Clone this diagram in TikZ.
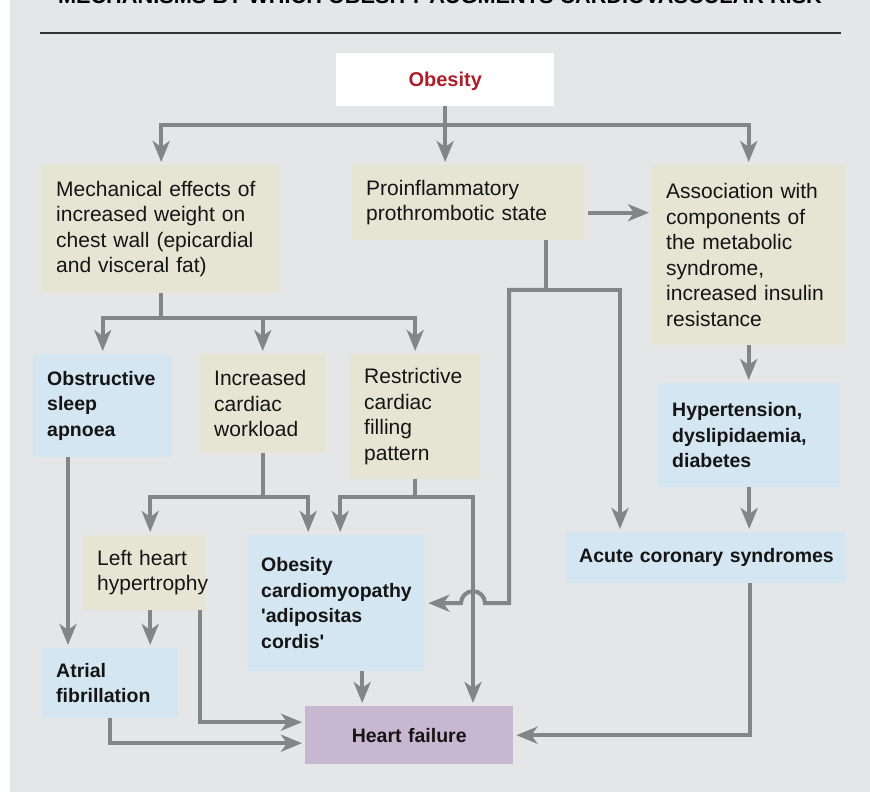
\documentclass[tikz,border=0pt]{standalone}
\usepackage{fontspec}
\setmainfont{Liberation Sans}
\usepackage{tikz}
\usetikzlibrary{arrows.meta,calc,positioning}

\definecolor{DEFINE_BG_COLOR}{HTML}{E5E6E8}
\definecolor{DEFINE_BEIGE_COLOR}{HTML}{E6E5D4}
\definecolor{DEFINE_BLUE_COLOR}{HTML}{D4E6F1}
\definecolor{DEFINE_PURPLE_COLOR}{HTML}{C8B7D0}
\definecolor{DEFINE_LINK_COLOR}{HTML}{848587}
\definecolor{DEFINE_RED_COLOR}{HTML}{AD1F2A}
\definecolor{DEFINE_TEXT_COLOR}{HTML}{151515}

\newcommand\regfont{\fontsize{21}{25.5}\selectfont}
\newcommand\boldfont{\fontsize{19.5}{25.5}\selectfont\bfseries}

\tikzstyle{BEIGE_COLOR}=[fill=DEFINE_BEIGE_COLOR]
\tikzstyle{BLUE_COLOR}=[fill=DEFINE_BLUE_COLOR]
\tikzstyle{PURPLE_COLOR}=[fill=DEFINE_PURPLE_COLOR]
\tikzstyle{box} = [rectangle, anchor=north west, inner xsep=14pt, inner ysep=0pt, align=left, text=DEFINE_TEXT_COLOR]
\tikzstyle{plain_box} = [box, BEIGE_COLOR, font=\regfont]
\tikzstyle{bold_box} = [box, BLUE_COLOR, font=\boldfont]
\tikzstyle{link} = [draw=DEFINE_LINK_COLOR, line width=4pt, -{Stealth[length=21pt,width=17pt,inset=6pt]}, shorten >=3pt]
\tikzstyle{line} = [draw=DEFINE_LINK_COLOR, line width=4pt]

\begin{document}
\begin{tikzpicture}[x=1pt, y=1pt]
      \useasboundingbox (0,0) rectangle (870,792);
      \fill[DEFINE_BG_COLOR] (10,0) rectangle (870,792);

      %%%%%%%%%%%%%%%%%%%%%%%%%%%%%%%%%%%%%%%%%%%%%%%%%
      % TITLE
      %%%%%%%%%%%%%%%%%%%%%%%%%%%%%%%%%%%%%%%%%%%%%%%%%
      \node[anchor=base, inner sep=0pt, font=\fontsize{21.7}{26}\selectfont\bfseries] (TITLE) at (440,788) {MECHANISMS BY WHICH OBESITY AUGMENTS CARDIOVASCULAR RISK};
      \draw[line width=2pt, draw=black!80] (40,759) -- (841,759);

      %%%%%%%%%%%%%%%%%%%%%%%%%%%%%%%%%%%%%%%%%%%%%%%%%
      % BOXES
      %%%%%%%%%%%%%%%%%%%%%%%%%%%%%%%%%%%%%%%%%%%%%%%%%
      \node[box, fill=white, align=center, minimum width=218pt, minimum height=53pt, text width=190pt, text height=14pt, text depth=0pt, text=DEFINE_RED_COLOR, font=\fontsize{20}{24}\selectfont\bfseries] (OB) at (336,739) {Obesity};

      \node[plain_box, minimum width=238pt, minimum height=128pt, text width=210pt] (MECH) at (42,627) {Mechanical effects of\\increased weight on\\chest wall (epicardial\\and visceral fat)};
      \node[plain_box, minimum width=233pt, minimum height=75pt, text width=205pt] (PRO) at (352,627) {Proinflammatory\\prothrombotic state};
      \node[plain_box, minimum width=193pt, minimum height=180pt, text width=165pt] (ASSOC) at (652,627) {Association with\\components of\\the metabolic\\syndrome,\\increased insulin\\resistance};

      \node[bold_box, minimum width=139pt, minimum height=103pt, text width=111pt] (OSA) at (33,438) {Obstructive\\sleep\\apnoea};
      \node[plain_box, minimum width=125pt, minimum height=99pt, text width=97pt] (INC) at (200,438) {Increased\\cardiac\\workload};
      \node[plain_box, minimum width=130pt, minimum height=125pt, text width=102pt] (RES) at (350,438) {Restrictive\\cardiac\\filling\\pattern};
      \node[bold_box, minimum width=182pt, minimum height=104pt, text width=154pt] (HYP) at (658,409) {Hypertension,\\dyslipidaemia,\\diabetes};

      \node[bold_box, minimum width=280pt, minimum height=51pt, text width=252pt] (ACS) at (565,260) {\mbox{Acute coronary syndromes}};
      \node[plain_box, minimum width=122pt, minimum height=75pt, text width=94pt] (LHH) at (83,257) {Left heart\\hypertrophy};
      \node[bold_box, minimum width=178pt, minimum height=136pt, text width=150pt] (OC) at (247,257) {Obesity\\cardiomyopathy\\\textquotesingle adipositas\\cordis\textquotesingle};
      \node[bold_box, minimum width=136pt, minimum height=70pt, text width=108pt] (AF) at (42,144) {Atrial\\fibrillation};
      \node[bold_box, PURPLE_COLOR, align=center, minimum width=208pt, minimum height=58pt, text width=180pt] (HF) at (305,86) {Heart failure};

      %%%%%%%%%%%%%%%%%%%%%%%%%%%%%%%%%%%%%%%%%%%%%%%%%
      % HELPER POINTS
      %%%%%%%%%%%%%%%%%%%%%%%%%%%%%%%%%%%%%%%%%%%%%%%%%
      \coordinate (PRO_split) at (546,502);
      \coordinate (PRO_L) at (509,502);
      \coordinate (PRO_R) at (620,502);
      \coordinate (PRO_out) at ($(PRO.east)+(0,-10)$);
      \coordinate (RES_R) at (473,295);
      \coordinate (OSA_out) at ($(OSA.south west)+(35,0)$);
      \coordinate (LHH_in) at ($(LHH.north)+(6,0)$);
      \coordinate (LHH_out) at ($(LHH.south)+(6,0)$);
      \coordinate (LHH_out2) at ($(LHH.south east)+(-5,0)$);
      \coordinate (OC_in) at ($(OC.north)+(-28,0)$);
      \coordinate (OC_in2) at ($(OC.north)+(4,0)$);
      \coordinate (OC_out) at ($(OC.south)+(26,0)$);
      \coordinate (ACS_out) at ($(ACS.south)+(45,0)$);

      %%%%%%%%%%%%%%%%%%%%%%%%%%%%%%%%%%%%%%%%%%%%%%%%%
      % ARROWS
      %%%%%%%%%%%%%%%%%%%%%%%%%%%%%%%%%%%%%%%%%%%%%%%%%
      \draw[link] (OB.south) -- ++(0,-19) -| (MECH.north);
      \draw[link] (OB.south) -- ++(0,-19) -| (ASSOC.north);
      \draw[link] (OB.south) -- (OB.south |- PRO.north);

      \draw[link, shorten <=3pt] (PRO_out) -- (PRO_out -| ASSOC.west);

      \draw[link] (MECH.south) -- ++(0,-25) -| (OSA.north);
      \draw[link] (MECH.south) -- ++(0,-25) -| (INC.north);
      \draw[link] (MECH.south) -- ++(0,-25) -| (RES.north);

      \draw[line] (PRO_split |- PRO.south) -- (PRO_split);
      \draw[link] (PRO_split) -- (PRO_R) -- (PRO_R |- ACS.north);
      \draw[link] (PRO_split) -- (PRO_L) -- (PRO_L |- OC.east)
            -- ($(RES_R |- OC.east)+(12,0)$) arc[start angle=0, end angle=180, radius=12pt]
            -- (OC.east);

      \draw[link] (INC.south) -- ++(0,-44) -| (LHH_in);
      \draw[link] (INC.south) -- ++(0,-44) -| (OC_in);
      \draw[link] (RES.south) -- (RES.south |- RES_R) -| (OC_in2);
      \draw[link] (RES.south) -- (RES.south |- RES_R) -- (RES_R) -- (RES_R |- HF.north);

      \draw[link] (ASSOC.south) -- (ASSOC.south |- HYP.north);
      \draw[link] (HYP.south) -- (HYP.south |- ACS.north);

      \draw[link] (OSA_out) -- (OSA_out |- AF.north);
      \draw[link] (LHH_out) -- (LHH_out |- AF.north);
      \draw[link] (LHH_out2) |- ($(HF.west)+(0,13)$);
      \draw[link] (AF.south) |- ($(HF.west)+(0,-8)$);
      \draw[link] (OC_out) -- (OC_out |- HF.north);
      \draw[link] (ACS_out) |- (HF.east);

\end{tikzpicture}
\end{document}
